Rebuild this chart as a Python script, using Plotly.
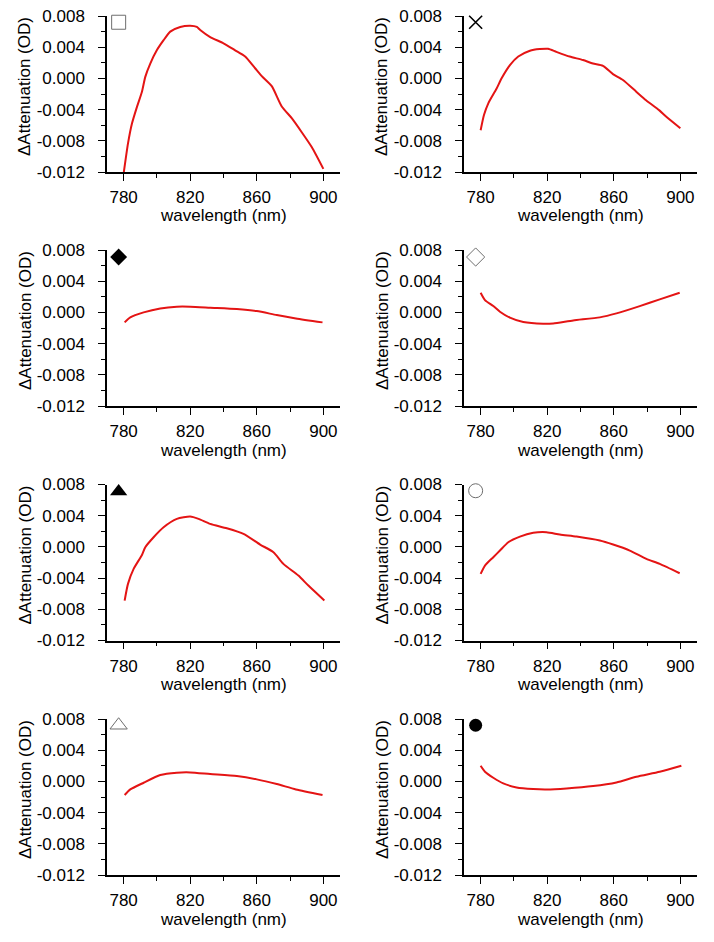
import plotly.graph_objects as go
from plotly.subplots import make_subplots

# ---- data ----
wl_1 = [780, 782.6, 785, 788, 791, 793, 796, 800, 804, 808, 814, 820, 824, 826, 832, 840, 847, 853, 859, 863, 869, 875, 881, 887, 893, 900]
att_1 = [-0.0122, -0.00836, -0.00579, -0.00365, -0.0017, 0.0002, 0.0019, 0.00363, 0.0049, 0.0060, 0.0066, 0.00676, 0.0066, 0.0062, 0.0053, 0.0045, 0.0036, 0.0028, 0.0013, 0.0003, -0.0010, -0.0036, -0.0051, -0.0069, -0.0088, -0.0116]

wl_2 = [780, 782, 784.6, 789.6, 792.6, 797.6, 802.6, 809.6, 815.5, 820.5, 825.5, 833.5, 841.5, 847.5, 853.5, 859.5, 865.5, 873.5, 879.4, 887.4, 891.4, 900]
att_2 = [-0.00665, -0.0047, -0.0032, -0.0013, 0.00001, 0.0017, 0.0028, 0.00355, 0.00376, 0.0038, 0.0034, 0.0028, 0.00235, 0.0019, 0.0016, 0.00055, -0.0002, -0.0017, -0.0028, -0.0041, -0.0049, -0.0064]

wl_3 = [780.6, 784, 792, 802, 812, 820, 832, 848, 860, 872, 883.5, 899.5]
att_3 = [-0.00128, -0.00064, 0.0, 0.00051, 0.00073, 0.00073, 0.0006, 0.00043, 0.00017, -0.00034, -0.00077, -0.00128]

wl_4 = [780, 782.6, 787.6, 791.6, 797.6, 805.6, 817.6, 823.6, 835.6, 851.6, 861.6, 875.6, 887.6, 899.6]
att_4 = [0.00252, 0.00158, 0.00081, 0.00009, -0.00068, -0.00124, -0.00145, -0.00141, -0.00103, -0.00064, -0.00013, 0.00081, 0.00167, 0.00252]

wl_5 = [780.6, 782.6, 786, 791, 793, 798, 804, 812, 820, 825, 832, 842, 852, 862, 870, 876, 885, 891, 900.6]
att_5 = [-0.00688, -0.00474, -0.00282, -0.00103, -0.00004, 0.00124, 0.00252, 0.00359, 0.00389, 0.00359, 0.00295, 0.00239, 0.00167, 0.0003, -0.00068, -0.00218, -0.00368, -0.00496, -0.00688]

wl_6 = [780, 782.6, 787.6, 791.6, 796.6, 803.6, 811.6, 819.6, 827.6, 837.6, 851.6, 859.6, 869.6, 879.6, 887.6, 899.6]
att_6 = [-0.00346, -0.00239, -0.00132, -0.00047, 0.0006, 0.00132, 0.0018, 0.00188, 0.00158, 0.00132, 0.00081, 0.0003, -0.00047, -0.00154, -0.00218, -0.00338]

wl_7 = [780.6, 784, 792, 802, 812, 820, 832, 848, 860, 872, 883.5, 899.5]
att_7 = [-0.00175, -0.00103, -0.00017, 0.00081, 0.00111, 0.00115, 0.00094, 0.00068, 0.00026, -0.00034, -0.00103, -0.00175]

wl_8 = [780, 782.6, 787.6, 793.6, 801.6, 811.6, 819.6, 831.6, 847.6, 861.6, 873.6, 887.6, 900.6]
att_8 = [0.00201, 0.00124, 0.00047, -0.00026, -0.00077, -0.00098, -0.00103, -0.0009, -0.0006, -0.00013, 0.0006, 0.00124, 0.00201]

panel_symbols = ["square-open", "x-thin-open", "diamond", "diamond-open",
                 "triangle-up", "circle-open", "triangle-up-open", "circle"]
symbol_x = [777, 777, 777, 777, 777, 777, 777, 777]
symbol_y = [0.0072, 0.0072, 0.0071, 0.0071, 0.0071, 0.0072, 0.0072, 0.0072]

y_tickvals = [-0.012, -0.008, -0.004, 0.0, 0.004, 0.008]
y_ticktext = ["-0.012", "-0.008", "-0.004", "0.000", "0.004", "0.008"]
x_tickvals = [780, 820, 860, 900]
x_ticktext = ["780", "820", "860", "900"]
x_title = "wavelength (nm)"
y_title = "ΔAttenuation (OD)"

series = [(wl_1, att_1), (wl_2, att_2), (wl_3, att_3), (wl_4, att_4),
          (wl_5, att_5), (wl_6, att_6), (wl_7, att_7), (wl_8, att_8)]

W, H = 714, 942
fig = make_subplots(rows=4, cols=2)

col_px = [(107, 340), (464, 697)]
row_px = [(16, 172), (250, 406), (484.5, 640.5), (719, 875)]

FONT = "Liberation Sans, Arial, sans-serif"
FS = 17
RED = "rgb(228,20,20)"

for i, (x, y) in enumerate(series):
    r, c = i // 2 + 1, i % 2 + 1
    fig.add_trace(go.Scatter(x=x, y=y, mode="lines",
                             line=dict(color=RED, width=2, shape="spline", smoothing=0.6),
                             showlegend=False, hoverinfo="skip"), row=r, col=c)
    sym = panel_symbols[i]
    filled = not sym.endswith("open")
    if sym.startswith("x"):
        mk = dict(symbol=sym, size=13, color="black", line=dict(color="black", width=1.6))
    elif sym.startswith("triangle"):
        mk = dict(symbol=sym, size=15, color="black" if filled else "#6e6e6e",
                  line=dict(color="black" if filled else "#6e6e6e", width=0 if filled else 1))
    elif filled:
        mk = dict(symbol=sym, size=13, color="black", line=dict(color="black", width=0))
    else:
        mk = dict(symbol=sym, size=14, color="#6e6e6e", line=dict(color="#6e6e6e", width=1))
    fig.add_trace(go.Scatter(x=[symbol_x[i]], y=[symbol_y[i]], mode="markers",
                             marker=mk, showlegend=False, cliponaxis=False,
                             hoverinfo="skip"), row=r, col=c)

for i in range(8):
    r, c = i // 2 + 1, i % 2 + 1
    x0, x1 = col_px[c - 1]
    t, b = row_px[r - 1]
    fig.update_xaxes(row=r, col=c, automargin=False,
                     domain=[x0 / W, x1 / W], range=[770, 910],
                     tickmode="array", tickvals=x_tickvals, ticktext=x_ticktext,
                     ticks="outside", ticklen=7, tickwidth=1.2, tickcolor="black",
                     ticklabelstandoff=2,
                     minor=dict(tickmode="array", tickvals=[800, 840, 880], ticks="outside",
                                ticklen=4, tickwidth=1.2, tickcolor="black"),
                     showline=True, linecolor="black", linewidth=1.5,
                     showgrid=False, zeroline=False,
                     tickfont=dict(family=FONT, size=FS, color="black"))
    fig.update_yaxes(row=r, col=c, automargin=False,
                     domain=[1 - b / H, 1 - t / H], range=[-0.012, 0.008],
                     tickmode="array", tickvals=y_tickvals, ticktext=y_ticktext,
                     ticks="outside", ticklen=7, tickwidth=1.2, tickcolor="black",
                     ticklabelstandoff=10,
                     minor=dict(tickmode="array", tickvals=[-0.010, -0.006, -0.002, 0.002, 0.006],
                                ticks="outside", ticklen=4, tickwidth=1.2, tickcolor="black"),
                     showline=True, linecolor="black", linewidth=1.5,
                     showgrid=False, zeroline=False,
                     tickfont=dict(family=FONT, size=FS, color="black"))
    fig.add_annotation(text=x_title, xref="paper", yref="paper",
                       x=(x0 + x1) / 2 / W, y=1 - (b + 44) / H,
                       xanchor="center", yanchor="middle", showarrow=False,
                       font=dict(family=FONT, size=FS, color="black"))
    fig.add_annotation(text=y_title, xref="paper", yref="paper", textangle=-90,
                       x=(x0 - 82) / W, y=1 - (t + 71) / H,
                       xanchor="center", yanchor="middle", showarrow=False,
                       font=dict(family=FONT, size=FS, color="black"))

fig.update_layout(width=W, height=H, margin=dict(l=0, r=0, t=0, b=0),
                  paper_bgcolor="white", plot_bgcolor="white",
                  font=dict(family=FONT, size=FS, color="black"))

fig.write_html("out.html", config={"displayModeBar": False},
               post_script="document.body.style.margin='0px';")
